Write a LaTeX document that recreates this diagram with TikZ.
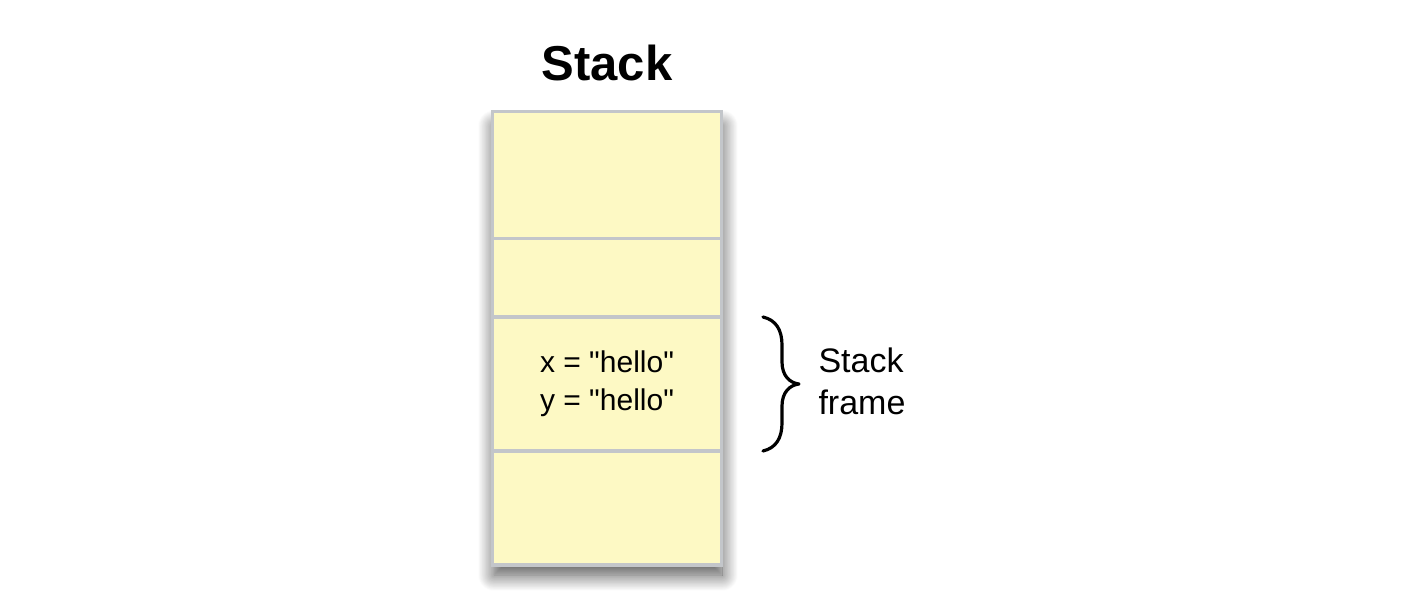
\documentclass[tikz,border=0pt]{standalone}
\usepackage{fontspec}
\setmainfont{Liberation Sans}[Ligatures=TeXOff]
\usetikzlibrary{shadows.blur}
\definecolor{cellfill}{HTML}{FDF9C4}
\definecolor{celledge}{HTML}{C3C6CA}
\tikzset{
  cell/.style={draw=celledge, line width=3.5pt, fill=cellfill, minimum width=229pt, inner sep=0pt, anchor=north},
  bigtitle/.style={font=\fontsize{49}{55}\selectfont\bfseries},
  celltext/.style={font=\fontsize{30}{38}\selectfont, align=center},
  sidetext/.style={font=\fontsize{34}{42}\selectfont, align=left, anchor=west},
  bracepath/.style={line width=3.2pt, line cap=round, line join=round}
}
\begin{document}
\begin{tikzpicture}[x=1pt,y=-1pt]
\useasboundingbox (0,0) rectangle (1416,612);
% shadow of whole stack
\fill[blur shadow={shadow xshift=1pt, shadow yshift=-14pt, shadow blur steps=20, shadow blur radius=16pt, shadow opacity=70}, white] (493,112) rectangle (721,561);
\node[cell, minimum height=127pt] (c1) at (607,110) {};
\node[cell, minimum height=78pt] (c2) at (607,237) {};
\node[cell, minimum height=134pt] (c3) at (607,315) {};
\node[cell, minimum height=114pt] (c4) at (607,449) {};
\node[bigtitle] (title) at (607,63) {Stack};
\node[celltext] (vars) at (c3.center) {x = "hello"\\y = "hello"};
\coordinate (btop) at (763,317);
\coordinate (bbot) at (763,451);
\coordinate (btip) at (799,384);
\draw[bracepath] (btop) .. controls (776,320) and (782,330) .. (782,345)
  -- (782,362) .. controls (782,376) and (790,383) .. (btip)
  .. controls (790,385) and (782,392) .. (782,406)
  -- (782,423) .. controls (782,438) and (776,448) .. (bbot);
\node[sidetext] (frame) at (815,381) {Stack\\frame};
\end{tikzpicture}
\end{document}
